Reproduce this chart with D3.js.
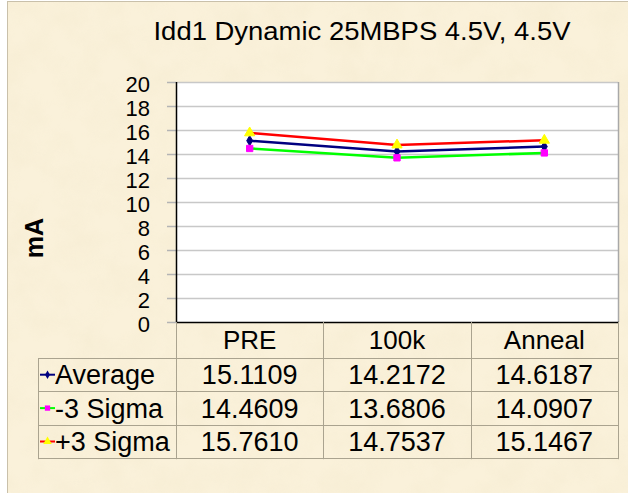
<!DOCTYPE html>
<html>
<head>
<meta charset="utf-8">
<script src="https://cdn.jsdelivr.net/npm/d3@7"></script>
<style>
  body { margin: 0; background: #ffffff; }
  svg { display: block; font-family: "Liberation Sans", Arial, sans-serif; }
</style>
</head>
<body>
<svg width="628" height="493"></svg>
<script>
var categories = ["PRE", "100k", "Anneal"];
var seriesNames = ["Average", "-3 Sigma", "+3 Sigma"];
var averageValues = [15.1109, 14.2172, 14.6187];
var minus3Values = [14.4609, 13.6806, 14.0907];
var plus3Values = [15.7610, 14.7537, 15.1467];
var yTicks = [0, 2, 4, 6, 8, 10, 12, 14, 16, 18, 20];
var titleText = "Idd1 Dynamic 25MBPS 4.5V, 4.5V";
var yLabel = "mA";

var series = [
  { name: seriesNames[0], values: averageValues, line: "#000080", fill: "#000080", symbol: d3.symbolDiamond, size: 30 },
  { name: seriesNames[1], values: minus3Values, line: "#00ff00", fill: "#ff00ff", symbol: d3.symbolSquare, size: 40 },
  { name: seriesNames[2], values: plus3Values, line: "#ff0000", fill: "#ffff00", symbol: d3.symbolTriangle, size: 45 }
];

var svg = d3.select("svg");

// parchment background texture
var defs = svg.append("defs");
var filt = defs.append("filter").attr("id", "paper")
  .attr("x", 0).attr("y", 0).attr("width", "100%").attr("height", "100%");
filt.append("feTurbulence")
  .attr("type", "fractalNoise").attr("baseFrequency", "0.03")
  .attr("numOctaves", 4).attr("seed", 7);
filt.append("feColorMatrix").attr("type", "matrix")
  .attr("values", "0 0 0 0 0.90  0 0 0 0 0.82  0 0 0 0 0.62  1.4 0 0 0 -0.5");

svg.append("rect")
  .attr("x", 7.5).attr("y", 1.5).attr("width", 640).attr("height", 500)
  .attr("fill", "#faf1da").attr("stroke", "#c9c0aa");
svg.append("rect")
  .attr("x", 8).attr("y", 2).attr("width", 620).attr("height", 491)
  .attr("filter", "url(#paper)").attr("opacity", 0.6);

// plot area
var plotL = 176, plotR = 618, plotT = 82, plotB = 322;
var x = d3.scaleBand().domain(categories).range([plotL, plotR]);
var y = d3.scaleLinear().domain([0, 20]).range([plotB, plotT]);

svg.append("rect")
  .attr("x", plotL).attr("y", plotT).attr("width", plotR - plotL).attr("height", plotB - plotT)
  .attr("fill", "#ffffff");

// gridlines
svg.append("g").selectAll("line")
  .data(yTicks.slice(1))
  .enter().append("line")
  .attr("x1", plotL).attr("x2", plotR)
  .attr("y1", function(d) { return Math.round(y(d)) + 0.5; })
  .attr("y2", function(d) { return Math.round(y(d)) + 0.5; })
  .attr("stroke", "#c8c8c8").attr("stroke-width", 1.5);

// plot border right side (gray)
svg.append("line")
  .attr("x1", plotR + 0.5).attr("x2", plotR + 0.5).attr("y1", plotT).attr("y2", plotB)
  .attr("stroke", "#a8a8a8").attr("stroke-width", 1.5);

// y axis
var yAxis = svg.append("g")
  .attr("transform", "translate(" + plotL + ",0)")
  .call(d3.axisLeft(y).tickValues(yTicks).tickSize(9).tickPadding(17).tickFormat(d3.format("d")));
yAxis.select(".domain").remove();
yAxis.selectAll(".tick line").attr("stroke", "#b4b4b4").attr("stroke-width", 1.5);
yAxis.selectAll(".tick text")
  .attr("font-size", 22).attr("fill", "#000").attr("dy", "0.42em")
  .attr("font-family", "Liberation Sans, Arial, sans-serif");

svg.append("line")
  .attr("x1", plotL + 0.5).attr("x2", plotL + 0.5).attr("y1", plotT).attr("y2", plotB)
  .attr("stroke", "#000").attr("stroke-width", 1.5);
svg.append("line")
  .attr("x1", plotL).attr("x2", plotR + 1).attr("y1", plotB + 0.5).attr("y2", plotB + 0.5)
  .attr("stroke", "#000").attr("stroke-width", 1.5);

// lines and markers
var line = d3.line()
  .x(function(d, i) { return x(categories[i]) + x.bandwidth() / 2; })
  .y(function(d) { return y(d); });

series.forEach(function(s) {
  svg.append("path")
    .attr("d", line(s.values))
    .attr("fill", "none").attr("stroke", s.line).attr("stroke-width", 2.5);
  svg.append("g").selectAll("path")
    .data(s.values)
    .enter().append("path")
    .attr("d", d3.symbol().type(s.symbol).size(s.size))
    .attr("transform", function(d, i) {
      return "translate(" + (x(categories[i]) + x.bandwidth() / 2) + "," + y(d) + ")";
    })
    .attr("fill", s.fill).attr("stroke", s.fill).attr("stroke-width", 1);
});

// title
svg.append("text")
  .attr("x", 362).attr("y", 40)
  .attr("text-anchor", "middle").attr("font-size", 25)
  .attr("textLength", 417).attr("lengthAdjust", "spacingAndGlyphs")
  .text(titleText);

// y label
svg.append("text")
  .attr("transform", "translate(43,238) rotate(-90)")
  .attr("text-anchor", "middle").attr("font-size", 25).attr("font-weight", "bold")
  .text(yLabel);

// data table
var tableLeft = 38, headTop = plotB, headBottom = 358, rowH = 33.4;
var tableColor = "#aaa38f";
var tg = svg.append("g");

// horizontal lines
[0, 1, 2, 3].forEach(function(r) {
  var yy = Math.round(headBottom + r * rowH) + 0.5;
  tg.append("line").attr("x1", tableLeft).attr("x2", plotR + 1).attr("y1", yy).attr("y2", yy)
    .attr("stroke", tableColor).attr("stroke-width", 1);
});
// vertical lines
tg.append("line").attr("x1", tableLeft + 0.5).attr("x2", tableLeft + 0.5)
  .attr("y1", headBottom).attr("y2", headBottom + 3 * rowH + 1)
  .attr("stroke", tableColor);
categories.concat(["end"]).forEach(function(c, i) {
  var xx = Math.round(plotL + i * x.bandwidth()) + 0.5;
  tg.append("line").attr("x1", xx).attr("x2", xx)
    .attr("y1", headTop).attr("y2", headBottom + 3 * rowH + 1)
    .attr("stroke", tableColor);
});

// header labels
tg.selectAll("text.cat")
  .data(categories)
  .enter().append("text")
  .attr("class", "cat")
  .attr("x", function(d) { return x(d) + x.bandwidth() / 2; })
  .attr("y", 349)
  .attr("text-anchor", "middle").attr("font-size", 26)
  .text(function(d) { return d; });

// rows
series.forEach(function(s, r) {
  var cy = headBottom + r * rowH + rowH / 2;
  var ty = cy + 9.5;
  // legend key
  tg.append("line").attr("x1", 40).attr("x2", 55).attr("y1", cy).attr("y2", cy)
    .attr("stroke", s.line).attr("stroke-width", 2);
  tg.append("path")
    .attr("d", d3.symbol().type(s.symbol).size(s.size * 0.7))
    .attr("transform", "translate(47.5," + cy + ")")
    .attr("fill", s.fill);
  tg.append("text").attr("x", 55).attr("y", ty).attr("font-size", 27).text(s.name);
  tg.selectAll("text.v" + r)
    .data(s.values)
    .enter().append("text")
    .attr("x", function(d, i) { return x(categories[i]) + x.bandwidth() / 2; })
    .attr("y", ty)
    .attr("text-anchor", "middle").attr("font-size", 27)
    .text(function(d) { return d3.format(".4f")(d); });
});
</script>
</body>
</html>
